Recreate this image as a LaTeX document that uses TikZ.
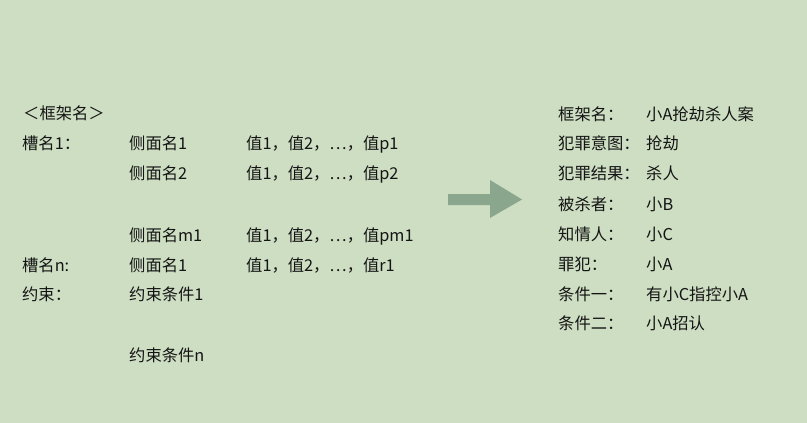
\documentclass[tikz,border=0pt]{standalone}
\usepackage{fontspec}
\setmainfont{Noto Sans CJK SC}
\definecolor{bg}{RGB}{206,222,195}
\definecolor{arrowc}{RGB}{138,166,140}
\definecolor{txt}{RGB}{20,20,20}
\begin{document}
\begin{tikzpicture}[x=1pt,y=-1pt,
  lbl/.style={anchor=base west,inner sep=0pt,font=\fontsize{16.3}{19}\selectfont,text=txt}]
\fill[bg] (0,0) rectangle (807,423);
\useasboundingbox (0,0) rectangle (807,423);
% left frame
\node[lbl] (fname) at (23,119) {＜框架名＞};
\node[lbl] (s1) at (22,149) {槽名1：};
\node[lbl] (s1a1) at (129,149) {侧面名1};
\node[lbl] (s1v1) at (246,149) {值1，值2，…，值p1};
\node[lbl] (s1a2) at (129,179) {侧面名2};
\node[lbl] (s1v2) at (246,179) {值1，值2，…，值p2};
\node[lbl] (s1am) at (129,241) {侧面名m1};
\node[lbl] (s1vm) at (246,241) {值1，值2，…，值pm1};
\node[lbl] (sn) at (22,271) {槽名n:};
\node[lbl] (sna1) at (129,271) {侧面名1};
\node[lbl] (snv1) at (246,271) {值1，值2，…，值r1};
\node[lbl] (c) at (22,300) {约束：};
\node[lbl] (c1) at (129,300) {约束条件1};
\node[lbl] (cn) at (129,361) {约束条件n};
% arrow
\fill[arrowc] (448,194) -- (490,194) -- (490,180) -- (522,199.5) -- (490,218) -- (490,205) -- (448,205) -- cycle;
% right frame
\node[lbl] (r1k) at (558,120) {框架名：};
\node[lbl] (r1v) at (646,120) {小A抢劫杀人案};
\node[lbl] (r2k) at (558,149) {犯罪意图：};
\node[lbl] (r2v) at (646,149) {抢劫};
\node[lbl] (r3k) at (558,179) {犯罪结果：};
\node[lbl] (r3v) at (646,179) {杀人};
\node[lbl] (r4k) at (558,210) {被杀者：};
\node[lbl] (r4v) at (646,210) {小B};
\node[lbl] (r5k) at (558,240) {知情人：};
\node[lbl] (r5v) at (646,240) {小C};
\node[lbl] (r6k) at (558,270) {罪犯：};
\node[lbl] (r6v) at (646,270) {小A};
\node[lbl] (r7k) at (558,300) {条件一：};
\node[lbl] (r7v) at (646,300) {有小C指控小A};
\node[lbl] (r8k) at (558,329) {条件二：};
\node[lbl] (r8v) at (646,329) {小A招认};
\end{tikzpicture}
\end{document}
